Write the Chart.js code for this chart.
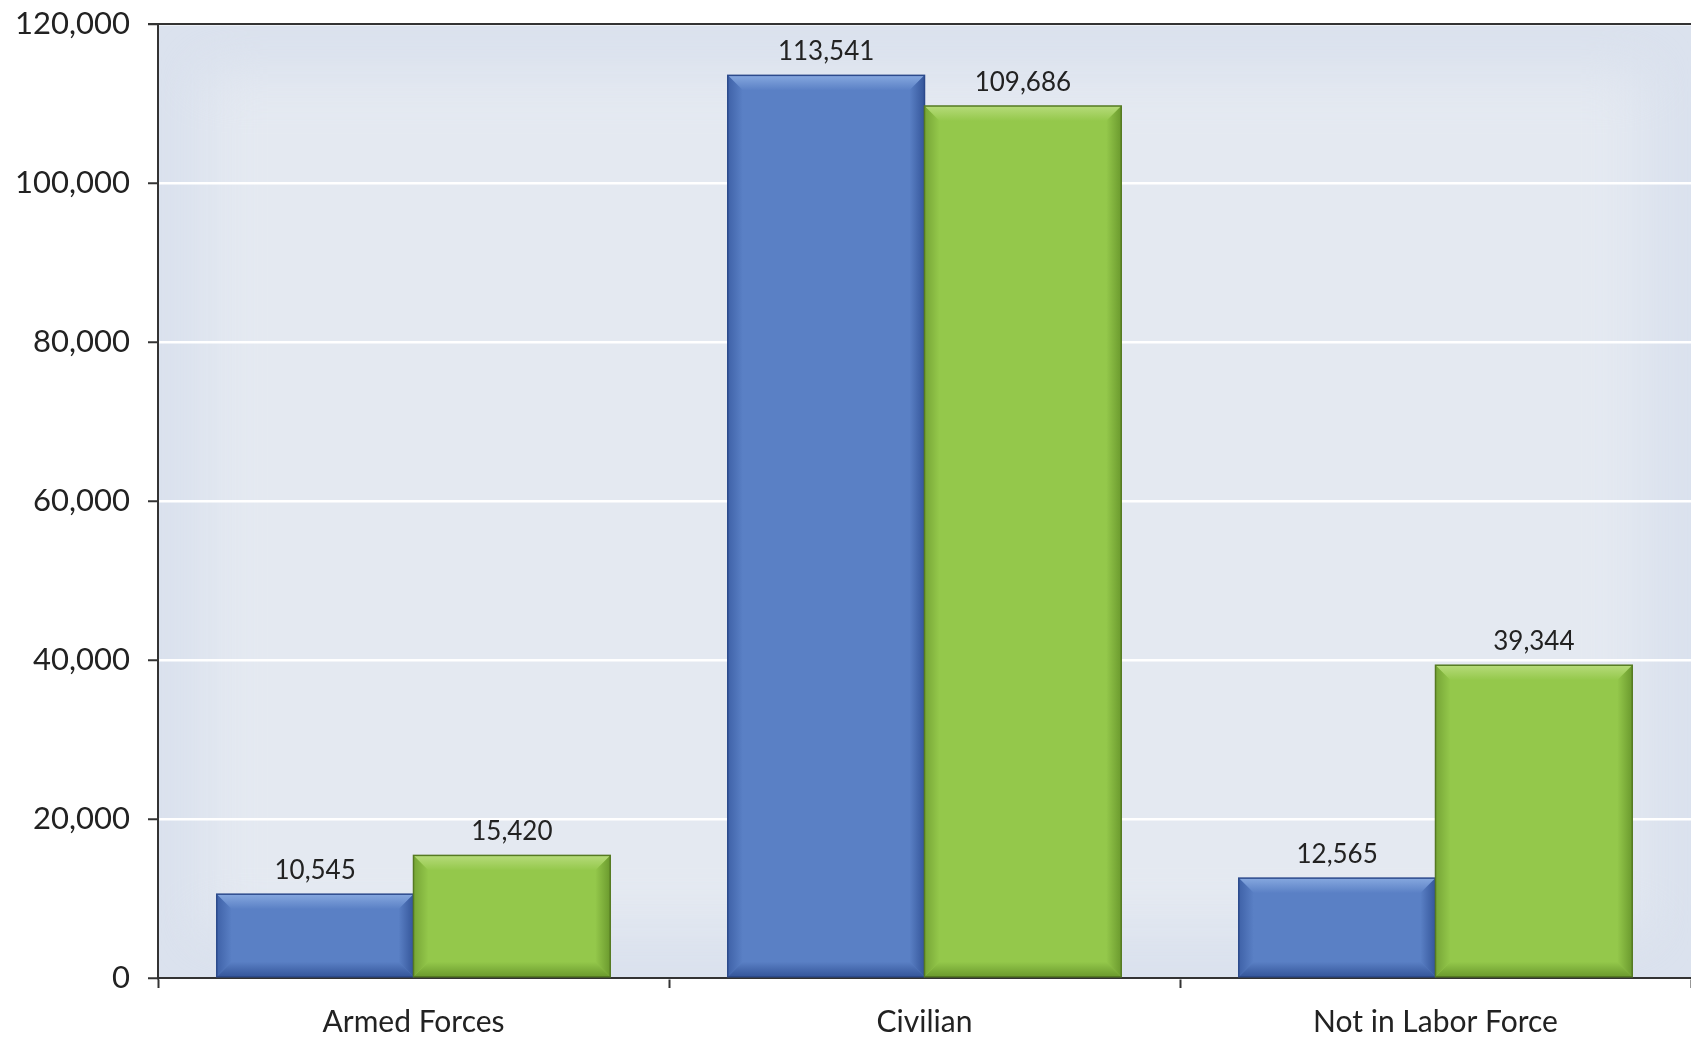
<!DOCTYPE html>
<html>
<head>
<meta charset="utf-8">
<script src="https://cdn.jsdelivr.net/npm/chart.js@4/dist/chart.umd.min.js"></script>
<style>
  html, body { margin: 0; padding: 0; background: #fff; }
  #wrap { width: 1691px; height: 1042px; position: relative; }
</style>
</head>
<body>
<div id="wrap"><canvas id="chart"></canvas></div>
<script>
// chart data
const categories = ['Armed Forces', 'Civilian', 'Not in Labor Force'];
const seriesBlue = [10545, 113541, 12565];
const seriesGreen = [15420, 109686, 39344];
const yMin = 0;
const yMax = 120000;
const yStep = 20000;

const FONT = 'Lato, "DejaVu Sans", sans-serif';

const barColors = [
  { body: '#5a80c5', light: '#86a8df', side: '#3f62a8', dark: '#35569a', edge: '#2c4a8c' },
  { body: '#94c84b', light: '#b6db7a', side: '#76a536', dark: '#6b9a2e', edge: '#557a22' }
];

const fmt = v => v.toLocaleString('en-US');

// plot background + top frame line
const plotFrame = {
  id: 'plotFrame',
  beforeDraw(chart) {
    const { ctx, chartArea: a } = chart;
    ctx.save();
    ctx.fillStyle = '#dbe2ee';
    ctx.fillRect(a.left, a.top, a.right - a.left, a.bottom - a.top);
    ctx.beginPath();
    ctx.rect(a.left, a.top, a.right - a.left, a.bottom - a.top);
    ctx.clip();
    ctx.filter = 'blur(25px)';
    ctx.fillStyle = '#e4e9f1';
    ctx.fillRect(a.left + 50, a.top + 50, a.right - a.left - 100, a.bottom - a.top - 100);
    ctx.restore();
  },
  afterDraw(chart) {
    const { ctx, chartArea: a } = chart;
    ctx.save();
    ctx.strokeStyle = '#333';
    ctx.lineWidth = 2;
    ctx.beginPath();
    ctx.moveTo(a.left - 10, a.top);
    ctx.lineTo(a.right, a.top);
    ctx.stroke();
    ctx.restore();
  }
};

const poly = (ctx, pts, fill) => {
  ctx.fillStyle = fill;
  ctx.beginPath();
  ctx.moveTo(pts[0][0], pts[0][1]);
  pts.slice(1).forEach(p => ctx.lineTo(p[0], p[1]));
  ctx.closePath();
  ctx.fill();
};

const grad = (ctx, x0, y0, x1, y1, c0, c1) => {
  const g = ctx.createLinearGradient(x0, y0, x1, y1);
  g.addColorStop(0, c0);
  g.addColorStop(1, c1);
  return g;
};

// bevelled bars and value labels
const bevelBars = {
  id: 'bevelBars',
  afterDatasetsDraw(chart) {
    const ctx = chart.ctx;
    chart.data.datasets.forEach((ds, di) => {
      const meta = chart.getDatasetMeta(di);
      const c = barColors[di];
      meta.data.forEach((bar, i) => {
        const { x, y, base, width } = bar.getProps(['x', 'y', 'base', 'width'], true);
        const l = x - width / 2, r = x + width / 2, t = y, b = base;
        const s = Math.min(15, (b - t) / 2);
        ctx.save();
        poly(ctx, [[l, t], [r, t], [r - s, t + s], [l + s, t + s]], grad(ctx, 0, t, 0, t + s, c.light, c.body));
        poly(ctx, [[l, b], [r, b], [r - s, b - s], [l + s, b - s]], grad(ctx, 0, b - s, 0, b, c.body, c.dark));
        poly(ctx, [[l, t], [l + s, t + s], [l + s, b - s], [l, b]], grad(ctx, l, 0, l + s, 0, c.side, c.body));
        poly(ctx, [[r, t], [r - s, t + s], [r - s, b - s], [r, b]], grad(ctx, r - s, 0, r, 0, c.body, c.dark));
        ctx.strokeStyle = c.edge;
        ctx.lineWidth = 1.5;
        ctx.strokeRect(l, t, width, b - t);

        ctx.fillStyle = '#222';
        ctx.font = '26px ' + FONT;
        ctx.textAlign = 'center';
        ctx.textBaseline = 'alphabetic';
        ctx.fillText(fmt(ds.data[i]), x, t - 15);
        ctx.restore();
      });
    });
  }
};

new Chart(document.getElementById('chart').getContext('2d'), {
  type: 'bar',
  data: {
    labels: categories,
    datasets: [
      { label: 'Series 1', data: seriesBlue, backgroundColor: barColors[0].body, borderWidth: 0 },
      { label: 'Series 2', data: seriesGreen, backgroundColor: barColors[1].body, borderWidth: 0 }
    ]
  },
  options: {
    responsive: true,
    maintainAspectRatio: false,
    animation: false,
    categoryPercentage: 0.77,
    barPercentage: 1.0,
    layout: { padding: { top: 24, left: 0, right: 0, bottom: 0 } },
    plugins: {
      legend: { display: false },
      tooltip: { enabled: false }
    },
    scales: {
      x: {
        grid: { display: true, drawOnChartArea: false, drawTicks: true, tickLength: 10, tickColor: '#333', tickWidth: 2, offset: true },
        border: { color: '#333', width: 2 },
        ticks: { color: '#222', font: { family: FONT, size: 30 }, padding: 16 },
        afterFit: s => { s.height = 64; }
      },
      y: {
        min: yMin,
        max: yMax,
        ticks: { stepSize: yStep, callback: v => fmt(v), color: '#222', font: { family: FONT, size: 31 }, padding: 18 },
        grid: { color: '#ffffff', lineWidth: 2.5, tickColor: '#333', tickWidth: 2, tickLength: 10 },
        border: { color: '#333', width: 2 },
        afterFit: s => { s.width = 158; s.paddingTop = 0; s.paddingBottom = 0; }
      }
    }
  },
  plugins: [plotFrame, bevelBars]
});
</script>
</body>
</html>
